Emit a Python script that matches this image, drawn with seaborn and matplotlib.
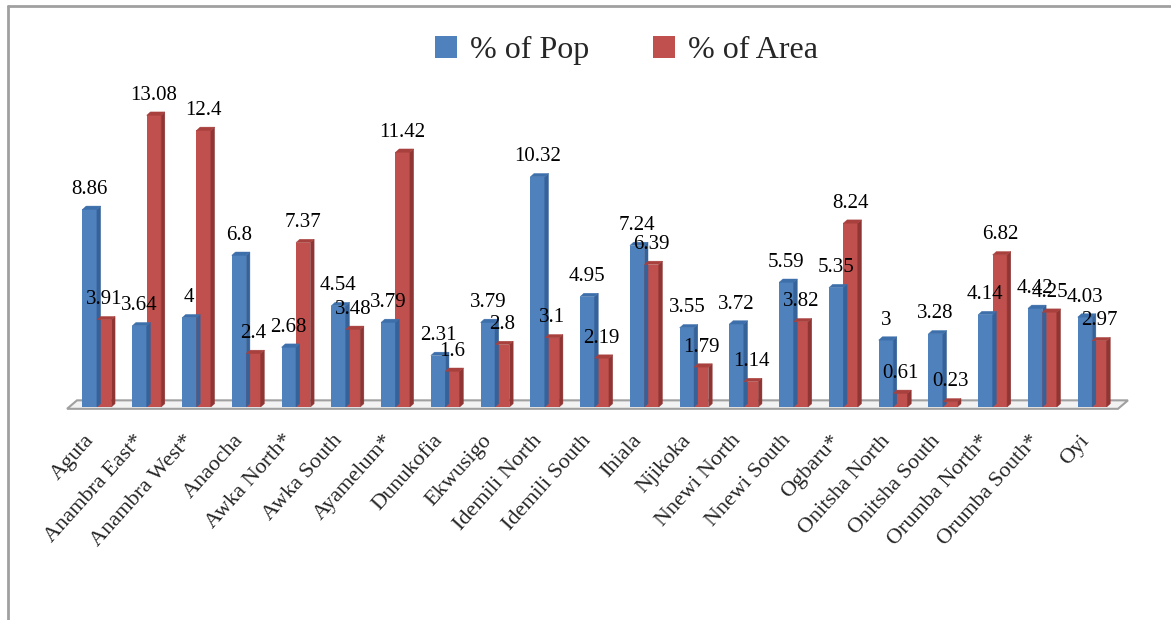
import matplotlib
matplotlib.use("Agg")
import matplotlib.pyplot as plt
import seaborn as sns
import pandas as pd
from matplotlib.patches import Polygon
from matplotlib.lines import Line2D
from matplotlib.transforms import ScaledTranslation

categories = ["Aguta", "Anambra East*", "Anambra West*", "Anaocha", "Awka North*",
              "Awka South", "Ayamelum*", "Dunukofia", "Ekwusigo", "Idemili North",
              "Idemili South", "Ihiala", "Njikoka", "Nnewi North", "Nnewi South",
              "Ogbaru*", "Onitsha North", "Onitsha South", "Orumba North*",
              "Orumba South*", "Oyi"]
pct_pop = [8.86, 3.64, 4, 6.8, 2.68, 4.54, 3.79, 2.31, 3.79, 10.32, 4.95, 7.24,
           3.55, 3.72, 5.59, 5.35, 3, 3.28, 4.14, 4.42, 4.03]
pct_area = [3.91, 13.08, 12.4, 2.4, 7.37, 3.48, 11.42, 1.6, 2.8, 3.1, 2.19, 6.39,
            1.79, 1.14, 3.82, 8.24, 0.61, 0.23, 6.82, 4.25, 2.97]
series_names = ["% of Pop", "% of Area"]

df = pd.DataFrame({
    "LGA": categories * 2,
    "Series": [series_names[0]] * len(categories) + [series_names[1]] * len(categories),
    "Value": pct_pop + pct_area,
})

sns.set_style("white")
plt.rcParams["font.family"] = ["Liberation Serif", "DejaVu Serif"]

BLUE = "#4F81BD"
RED = "#C0504D"
BLUE_SIDE = "#36629A"
RED_SIDE = "#8F3533"
BLUE_TOP = "#3D6FAB"
RED_TOP = "#A8403D"

fig = plt.figure(figsize=(11.71, 6.2), dpi=100)
ax = fig.add_axes([0.0615, 0.3435, 0.8924, 0.5274])

sns.barplot(data=df, x="LGA", y="Value", hue="Series", order=categories,
            hue_order=series_names, palette=[BLUE, RED], width=0.58,
            saturation=1, ax=ax, legend=False, zorder=3, linewidth=0,
            edgecolor="none")

ax.set_xlim(-0.5, len(categories) - 0.5)
ax.set_ylim(0, 14.66)

dx = 0.075
dy = 0.15
side_cols = {0: (BLUE_SIDE, BLUE_TOP), 1: (RED_SIDE, RED_TOP)}
n = len(categories)
for i, p in enumerate(ax.patches[:2 * n]):
    s = i // n
    x0 = p.get_x()
    w = p.get_width()
    h = p.get_height()
    sc, tc = side_cols[s]
    side = Polygon([(x0 + w, 0), (x0 + w, h), (x0 + w + dx, h + dy), (x0 + w + dx, dy)],
                   closed=True, facecolor=sc, edgecolor=sc, lw=0.3, zorder=3.1 + 0.01 * i)
    top = Polygon([(x0, h), (x0 + w, h), (x0 + w + dx, h + dy), (x0 + dx, h + dy)],
                  closed=True, facecolor=tc, edgecolor=tc, lw=0.3, zorder=3.1 + 0.01 * i)
    ax.add_patch(side)
    ax.add_patch(top)
    ax.annotate(f"{h:g}", xy=(x0 + w / 2, h), xytext=(0, 14.4),
                textcoords="offset points", ha="center", va="center",
                fontsize=15, color="black", zorder=10)

# floor
floor = Polygon([(-0.6, -0.08), (n - 0.48, -0.08), (n - 0.28, 0.3), (-0.4, 0.3)],
                closed=True, facecolor="#F2F2F2", edgecolor="#A0A0A0", lw=1.5,
                zorder=2, clip_on=False)
ax.add_patch(floor)

for sp in ax.spines.values():
    sp.set_visible(False)
ax.set_yticks([])
ax.set_xlabel("")
ax.set_ylabel("")
ax.tick_params(axis="x", length=0, pad=22)
ax.set_xticks(range(n))
ax.set_xticklabels(categories, rotation=48, ha="right", va="center",
                   rotation_mode="anchor", fontsize=16)
for lab in ax.get_xticklabels():
    lab.set_transform(lab.get_transform() + ScaledTranslation(-0.06, 0, fig.dpi_scale_trans))

handles = [plt.Rectangle((0, 0), 1, 1, facecolor=BLUE, edgecolor="none"),
           plt.Rectangle((0, 0), 1, 1, facecolor=RED, edgecolor="none")]
fig.legend(handles, series_names, loc="center", bbox_to_anchor=(0.535, 0.919),
           ncol=2, frameon=False, fontsize=23, handlelength=0.7, handleheight=0.7,
           handletextpad=0.4, columnspacing=2.0)

# chart border (top and left)
fig.add_artist(Line2D([0.007, 1.0], [0.991, 0.991], transform=fig.transFigure,
                      color="#A0A0A0", lw=2))
fig.add_artist(Line2D([0.007, 0.007], [0.0, 0.991], transform=fig.transFigure,
                      color="#A0A0A0", lw=2))

fig.savefig("out.png", dpi=100)
